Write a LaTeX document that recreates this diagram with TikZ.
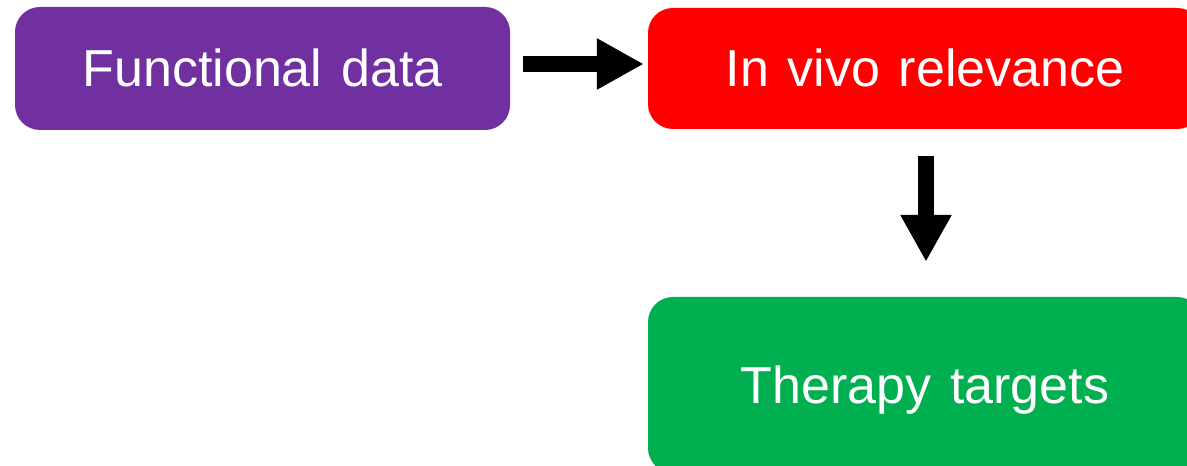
\documentclass[tikz,border=0pt]{standalone}
\usepackage{fontspec}
\setmainfont[WordSpace=1.3]{Liberation Sans}
\usetikzlibrary{arrows.meta}
\definecolor{boxpurple}{HTML}{7030A0}
\definecolor{boxred}{HTML}{FF0000}
\definecolor{boxgreen}{HTML}{00B050}
\tikzset{
  stagebox/.style={rounded corners=25pt, inner sep=0pt, text=white,
    text height=37pt, text depth=0pt, font=\fontsize{52}{60}\selectfont},
  blockarrow/.style={line width=16pt, -{Triangle[width=48pt,length=47pt]}}
}
\begin{document}
\begin{tikzpicture}[x=1pt, y=1pt]
\useasboundingbox (0,0) rectangle (1187,466);
%
\node [stagebox, fill=boxpurple, minimum width=495pt, minimum height=123pt] (fd) at (262.5,397.5){Functional data};
\node [stagebox, fill=boxred, minimum width=554pt, minimum height=121pt] (iv) at (925,397.5){In vivo relevance};
\node [stagebox, fill=boxgreen, minimum width=554pt, minimum height=176pt] (tt) at (925,81){Therapy targets};
%
\draw[blockarrow, shorten <=13pt, shorten >=4pt] ([yshift=4.5pt]fd.east) -- ([yshift=4.5pt]fd.east -| iv.west);
\draw[blockarrow, shorten <=27pt, shorten >=35pt] ([xshift=1pt]iv.south) -- ([xshift=1pt]tt.north);
\end{tikzpicture}
\end{document}
